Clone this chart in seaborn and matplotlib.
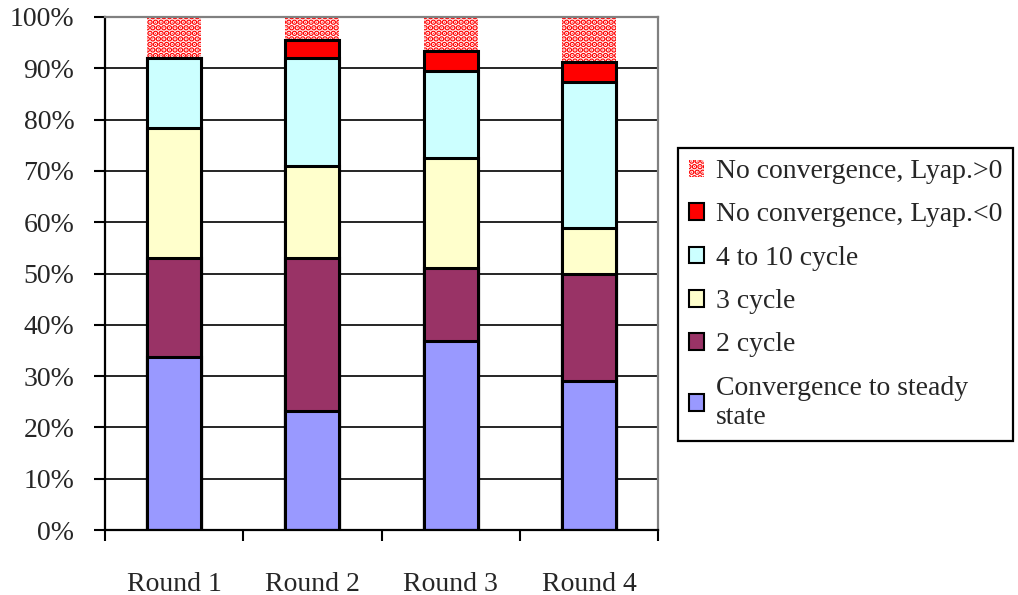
import matplotlib
matplotlib.use("Agg")
import matplotlib.pyplot as plt
from matplotlib.patches import Patch
from matplotlib.ticker import FixedLocator, PercentFormatter
import seaborn as sns
import pandas as pd

# values (percent of runs per round)
rounds = ["Round 1", "Round 2", "Round 3", "Round 4"]
steady = [33.7, 23.2, 36.8, 29.0]
cycle2 = [19.4, 29.9, 14.3, 21.0]
cycle3 = [25.2, 17.9, 21.5, 8.8]
cycle4_10 = [13.7, 21.0, 16.9, 28.6]
lyap_neg = [0.0, 3.5, 3.8, 3.9]
lyap_pos = [8.0, 4.5, 6.7, 8.7]

series_names = ["Convergence to steady\nstate", "2 cycle", "3 cycle",
                "4 to 10 cycle", "No convergence, Lyap.<0",
                "No convergence, Lyap.>0"]
colors = ["#9999FF", "#993366", "#FFFFCC", "#CCFFFF", "#FF0000", "white"]

df = pd.DataFrame({"Round": rounds})
for name, vals in zip(series_names, [steady, cycle2, cycle3, cycle4_10, lyap_neg, lyap_pos]):
    df[name] = vals
cum = df[series_names].cumsum(axis=1)
cum["Round"] = rounds

sns.set_style("white")
plt.rcParams["font.family"] = ["Liberation Serif", "DejaVu Serif"]
plt.rcParams["hatch.linewidth"] = 3.0

fig = plt.figure(figsize=(10.18, 5.95), dpi=100)
ax = fig.add_axes([105 / 1018, 1 - 530 / 595, 553 / 1018, 513 / 595])

# stacked bars: draw cumulative totals from the top series down
for name, col in reversed(list(zip(series_names, colors))):
    if name.startswith("No convergence, Lyap.>0"):
        sns.barplot(data=cum, x="Round", y=name, color=col, saturation=1,
                    width=0.39, edgecolor="red", linewidth=0, hatch="...",
                    ax=ax)
    else:
        sns.barplot(data=cum, x="Round", y=name, color=col, saturation=1,
                    width=0.39, edgecolor="black", linewidth=2.2, ax=ax)

ax.set_xlim(-0.5, 3.5)
ax.set_ylim(0, 100)
ax.set_xlabel("")
ax.set_ylabel("")

ax.yaxis.set_major_locator(FixedLocator(range(0, 101, 10)))
ax.yaxis.set_major_formatter(PercentFormatter(decimals=0))
ax.yaxis.grid(True, color="black", linewidth=1.2)
ax.set_axisbelow(True)

# category boundaries as ticks, names centred between them
ax.xaxis.set_major_locator(FixedLocator([-0.5, 0.5, 1.5, 2.5, 3.5]))
ax.xaxis.set_minor_locator(FixedLocator([0, 1, 2, 3]))
ax.set_xticklabels([], minor=False)
ax.set_xticklabels(rounds, minor=True)
ax.tick_params(axis="x", which="major", direction="out", length=8, width=1.5,
               color="black", bottom=True)
ax.tick_params(axis="x", which="minor", length=0, pad=30, labelsize=20)
ax.tick_params(axis="y", direction="out", length=8, width=1.5, color="black",
               left=True, pad=14, labelsize=20)

for side in ["left", "bottom"]:
    ax.spines[side].set_color("black")
    ax.spines[side].set_linewidth(1.6)
for side in ["top", "right"]:
    ax.spines[side].set_color("#808080")
    ax.spines[side].set_linewidth(1.6)
    ax.spines[side].set_visible(True)

handles = []
for name, col in reversed(list(zip(series_names, colors))):
    if name.startswith("No convergence, Lyap.>0"):
        handles.append(Patch(facecolor="white", edgecolor="red", hatch="...",
                             linewidth=0, label=name))
    else:
        handles.append(Patch(facecolor=col, edgecolor="black", linewidth=1.5,
                             label=name))

leg = fig.legend(handles=handles, loc="upper left",
                 bbox_to_anchor=(678 / 1018, 1 - 148 / 595), fontsize=20,
                 frameon=True, fancybox=False, shadow=False, framealpha=1,
                 handlelength=0.55, handleheight=0.55, handletextpad=0.4,
                 borderpad=0.4, labelspacing=0.66, borderaxespad=0)
leg.get_frame().set_edgecolor("black")
leg.get_frame().set_linewidth(1.6)
for t in leg.get_texts():
    t.set_linespacing(1.2)

fig.savefig("out.png", dpi=100, facecolor="white")
